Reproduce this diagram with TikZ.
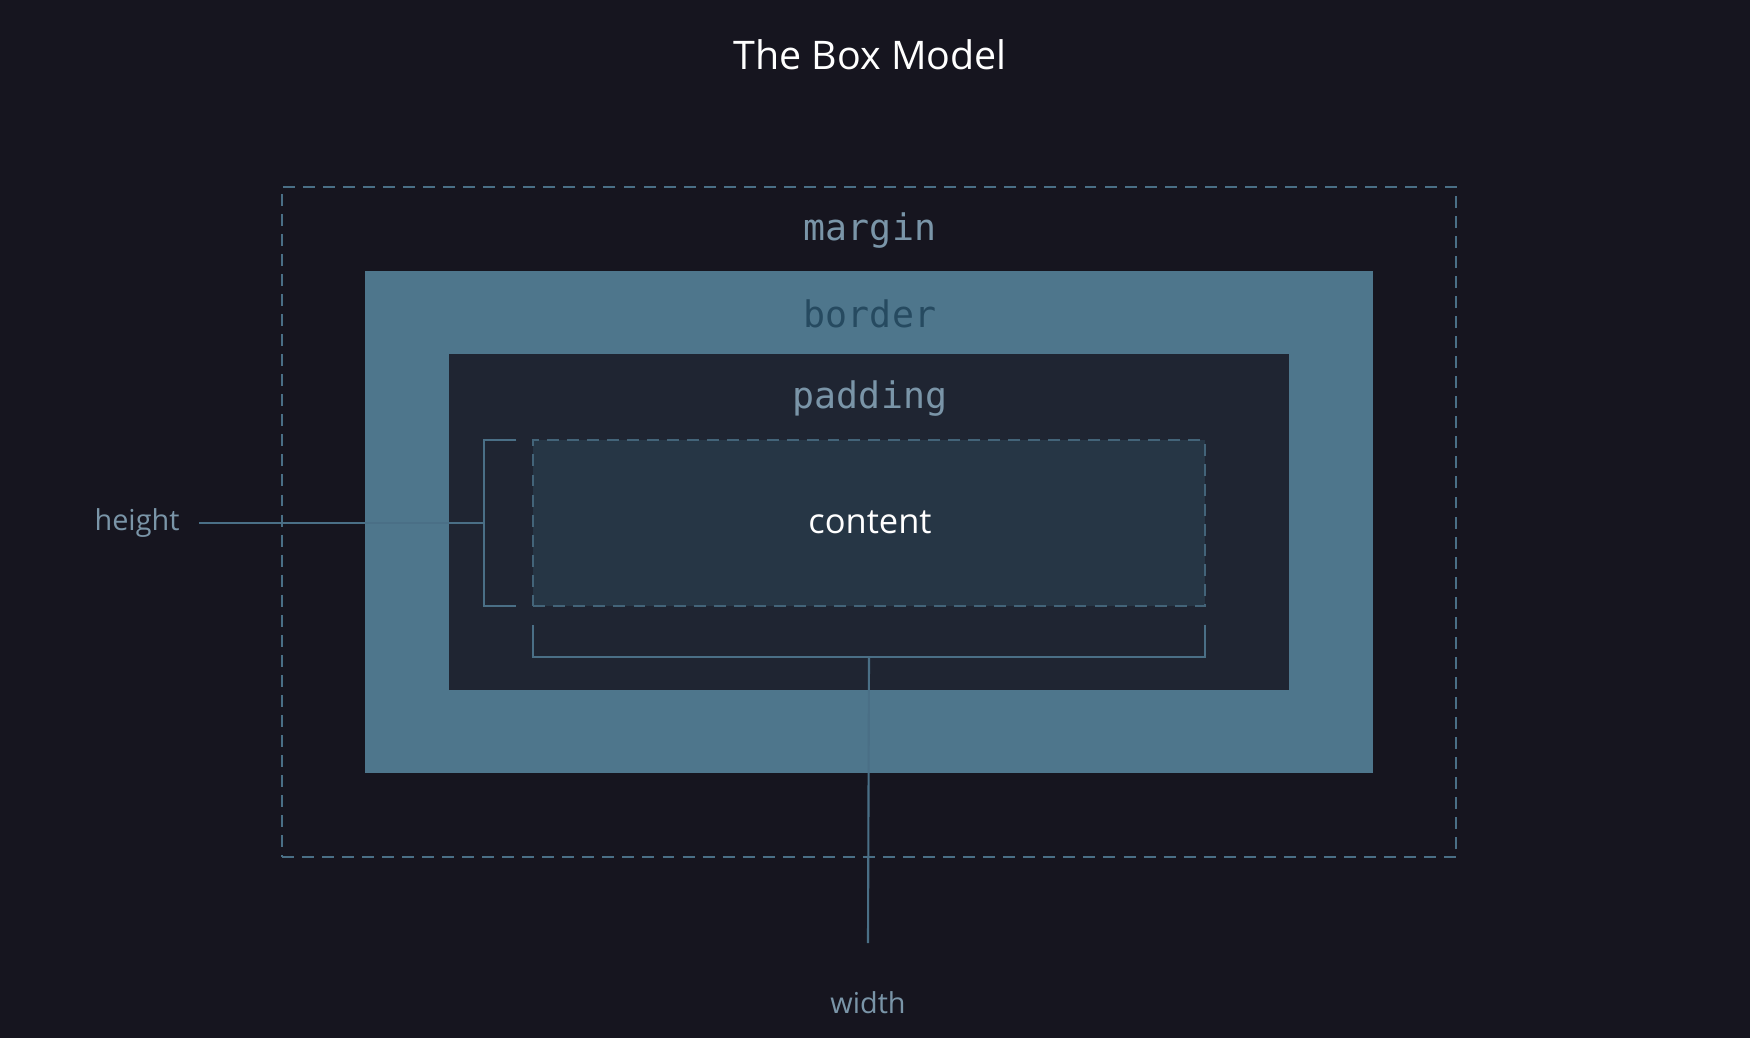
\documentclass[tikz,border=0pt]{standalone}
\usepackage{fontspec}
\usepackage{tikz}
\setmainfont{Open Sans}
\setmonofont{DejaVu Sans Mono}
\definecolor{boxbg}{HTML}{16151F}
\definecolor{boxborder}{HTML}{4E768C}
\definecolor{boxpadding}{HTML}{1F2532}
\definecolor{boxcontent}{HTML}{263645}
\definecolor{boxline}{HTML}{4A6F86}
\definecolor{boxlabel}{HTML}{7A95A8}
\definecolor{boxdark}{HTML}{264A60}

\begin{document}
\begin{tikzpicture}[x=0.01cm,y=-0.01cm,
      layer/.style={rectangle,inner sep=0pt,outer sep=0pt},
      dashbox/.style={layer,draw=boxline,line width=0.6pt,
                      dash pattern=on 3.4pt off 2.3pt},
      tag/.style={font=\ttfamily\fontsize{10.4}{12}\selectfont},
      note/.style={font=\fontsize{8.2}{10}\selectfont,text=boxlabel},
      dim/.style={draw=boxline,line width=0.6pt}]
    \fill[boxbg] (0,0) rectangle (1750,1038);
    \useasboundingbox (0,0) rectangle (1750,1038);

    \node[font=\fontsize{11.2}{13}\selectfont,text=white] (title) at (870,55) {The Box Model};

    \node[dashbox,minimum width=11.74cm,minimum height=6.70cm] (margin) at (869,522) {};
    \node[layer,fill=boxborder,minimum width=10.08cm,minimum height=5.02cm] (border) at (869,522) {};
    \node[layer,fill=boxpadding,minimum width=8.40cm,minimum height=3.35cm] (padding) at (869,522) {};
    \node[dashbox,fill=boxcontent,draw=boxline!80!boxcontent,minimum width=6.71cm,minimum height=1.66cm] (content) at (869,523) {};

    \node[tag,text=boxlabel] (marginlbl) at (870,231) {margin};
    \node[tag,text=boxdark]  (borderlbl) at (870,314) {border};
    \node[tag,text=boxlabel] (paddinglbl) at (870,399) {padding};
    \node[font=\fontsize{9.8}{12}\selectfont,text=white] (contentlbl) at (870,522) {content};

    \node[note] (heightlbl) at (137,523) {height};
    \node[note] (widthlbl) at (868,1003) {width};

    % height bracket
    \coordinate (hstart) at (199,523);
    \draw[dim] ([xshift=-0.17cm]content.north west) -| ([xshift=-0.49cm]content.west)
               |- ([xshift=-0.17cm]content.south west);
    \draw[dim] (hstart) -- ([xshift=-0.49cm]content.west);

    % width bracket
    \coordinate (wbar) at ([yshift=-0.51cm]content.south);
    \coordinate (wend) at (868,943);
    \draw[dim] ([yshift=-0.19cm]content.south west) |- (wbar)
               -| ([yshift=-0.19cm]content.south east);
    \draw[dim] (wbar) -- (wend);
  \end{tikzpicture}
\end{document}
